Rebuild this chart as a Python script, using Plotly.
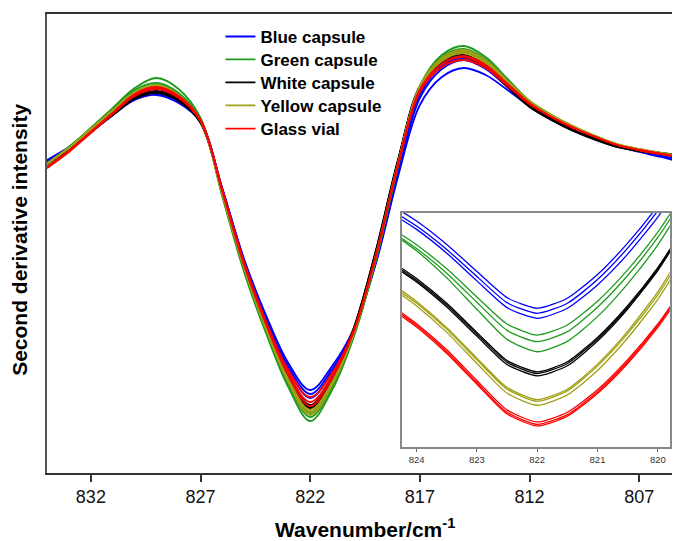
import plotly.graph_objects as go

# ---------------- main spectrum data ----------------
wavenumber = [834, 833, 832, 831, 830, 829, 828, 827, 826, 825, 824, 823, 822, 821, 820,
              819, 818, 817, 816, 815, 814, 813, 812, 811, 810, 809, 808, 807, 806, 805]

blue_1 = [1.40, 1.53, 1.69, 1.85, 2.00, 2.05, 1.97, 1.78, 1.11, 0.40, -0.16, -0.63, -0.90, -0.66, -0.28,
          0.37, 1.23, 1.95, 2.23, 2.32, 2.25, 2.10, 1.94, 1.83, 1.72, 1.63, 1.54, 1.48, 1.43, 1.37]
blue_2 = [1.39, 1.52, 1.68, 1.85, 2.01, 2.07, 1.99, 1.79, 1.11, 0.39, -0.18, -0.66, -0.94, -0.69, -0.29,
          0.38, 1.26, 2.02, 2.31, 2.40, 2.31, 2.13, 1.96, 1.83, 1.72, 1.63, 1.55, 1.49, 1.44, 1.40]
blue_3 = [1.38, 1.52, 1.68, 1.86, 2.02, 2.08, 2.00, 1.79, 1.10, 0.38, -0.20, -0.69, -0.98, -0.72, -0.30,
          0.39, 1.28, 2.05, 2.34, 2.42, 2.33, 2.15, 1.96, 1.83, 1.72, 1.62, 1.54, 1.49, 1.44, 1.41]

green_1 = [1.35, 1.52, 1.72, 1.92, 2.12, 2.22, 2.11, 1.82, 1.03, 0.27, -0.34, -0.87, -1.21, -0.90, -0.36,
           0.40, 1.33, 2.14, 2.45, 2.54, 2.43, 2.21, 1.99, 1.85, 1.73, 1.63, 1.55, 1.50, 1.46, 1.42]
green_2 = [1.36, 1.53, 1.72, 1.91, 2.10, 2.17, 2.07, 1.81, 1.04, 0.29, -0.32, -0.84, -1.17, -0.87, -0.35,
           0.41, 1.34, 2.13, 2.43, 2.51, 2.41, 2.20, 1.99, 1.85, 1.73, 1.64, 1.55, 1.50, 1.47, 1.43]
green_3 = [1.36, 1.53, 1.71, 1.90, 2.08, 2.15, 2.05, 1.80, 1.05, 0.30, -0.30, -0.82, -1.13, -0.85, -0.34,
           0.42, 1.35, 2.12, 2.41, 2.49, 2.39, 2.19, 1.98, 1.84, 1.73, 1.63, 1.55, 1.50, 1.46, 1.43]

white_1 = [1.36, 1.51, 1.68, 1.86, 2.03, 2.09, 2.01, 1.78, 1.08, 0.35, -0.25, -0.75, -1.05, -0.77, -0.27,
           0.50, 1.40, 2.14, 2.39, 2.45, 2.35, 2.14, 1.94, 1.81, 1.70, 1.61, 1.54, 1.50, 1.47, 1.45]
white_2 = [1.37, 1.51, 1.68, 1.85, 2.02, 2.08, 2.00, 1.78, 1.08, 0.34, -0.26, -0.76, -1.07, -0.78, -0.28,
           0.49, 1.39, 2.13, 2.38, 2.44, 2.34, 2.14, 1.94, 1.80, 1.69, 1.61, 1.53, 1.49, 1.46, 1.44]
white_3 = [1.36, 1.50, 1.68, 1.85, 2.01, 2.07, 1.99, 1.77, 1.07, 0.34, -0.26, -0.77, -1.08, -0.79, -0.28,
           0.49, 1.39, 2.12, 2.37, 2.43, 2.33, 2.13, 1.93, 1.80, 1.69, 1.60, 1.53, 1.49, 1.46, 1.44]

yellow_1 = [1.36, 1.52, 1.71, 1.90, 2.08, 2.15, 2.05, 1.80, 1.05, 0.31, -0.30, -0.82, -1.15, -0.85, -0.33,
            0.44, 1.36, 2.14, 2.42, 2.50, 2.40, 2.19, 1.99, 1.85, 1.74, 1.64, 1.56, 1.51, 1.47, 1.44]
yellow_2 = [1.37, 1.52, 1.71, 1.89, 2.07, 2.14, 2.04, 1.79, 1.06, 0.32, -0.29, -0.80, -1.12, -0.83, -0.32,
            0.45, 1.36, 2.13, 2.40, 2.48, 2.38, 2.18, 1.98, 1.85, 1.73, 1.64, 1.56, 1.51, 1.47, 1.44]
yellow_3 = [1.36, 1.52, 1.70, 1.89, 2.06, 2.13, 2.03, 1.79, 1.06, 0.32, -0.28, -0.79, -1.10, -0.82, -0.32,
            0.45, 1.36, 2.12, 2.39, 2.47, 2.37, 2.17, 1.98, 1.84, 1.73, 1.64, 1.55, 1.50, 1.46, 1.44]

glass_1 = [1.32, 1.49, 1.68, 1.87, 2.06, 2.13, 2.04, 1.80, 1.10, 0.37, -0.22, -0.70, -0.97, -0.73, -0.29,
           0.45, 1.35, 2.10, 2.36, 2.44, 2.35, 2.16, 1.97, 1.83, 1.72, 1.63, 1.55, 1.50, 1.46, 1.43]
glass_2 = [1.33, 1.49, 1.68, 1.87, 2.05, 2.12, 2.03, 1.80, 1.09, 0.36, -0.23, -0.73, -1.02, -0.76, -0.30,
           0.45, 1.35, 2.10, 2.36, 2.43, 2.34, 2.15, 1.96, 1.83, 1.72, 1.63, 1.55, 1.50, 1.46, 1.43]
glass_3 = [1.32, 1.48, 1.67, 1.86, 2.04, 2.11, 2.02, 1.79, 1.08, 0.34, -0.25, -0.75, -1.06, -0.78, -0.31,
           0.44, 1.34, 2.08, 2.33, 2.40, 2.32, 2.14, 1.96, 1.83, 1.72, 1.63, 1.55, 1.50, 1.46, 1.42]

# ---------------- inset (zoom on the 822 cm-1 minimum) ----------------
inset_wavenumber = [824.25, 824, 823.5, 823, 822.5, 822, 821.5, 821, 820.5, 820, 819.75]

inset_blue_1 = [70.5, 67.6, 60.6, 52.5, 44.7, 41.5, 44.5, 51.6, 61.0, 72.2, 79.0]
inset_blue_2 = [69.0, 66.1, 59.1, 51.0, 43.2, 40.0, 43.0, 50.1, 59.5, 70.7, 77.5]
inset_blue_3 = [68.0, 65.1, 58.0, 49.7, 41.7, 38.5, 41.5, 48.5, 57.7, 68.8, 75.5]
inset_green_1 = [63.5, 60.5, 53.3, 44.9, 36.8, 33.5, 36.5, 43.6, 53.0, 64.3, 71.0]
inset_green_2 = [62.5, 59.4, 52.0, 43.3, 34.9, 31.5, 34.5, 41.8, 51.3, 62.7, 69.5]
inset_green_3 = [62.0, 58.7, 50.6, 41.2, 32.2, 28.5, 31.6, 39.0, 48.8, 60.5, 67.5]
inset_white_1 = [53.5, 50.4, 43.0, 34.3, 25.9, 22.5, 25.5, 32.8, 42.3, 53.7, 60.5]
inset_white_2 = [53.0, 49.9, 42.5, 33.8, 25.4, 22.0, 25.0, 32.3, 41.8, 53.2, 60.2]
inset_white_3 = [52.5, 49.4, 41.9, 33.2, 24.7, 21.3, 24.3, 31.7, 41.3, 52.8, 59.8]
inset_yellow_1 = [46.8, 43.5, 35.7, 26.6, 17.8, 14.2, 17.3, 24.8, 34.6, 46.4, 53.5]
inset_yellow_2 = [46.2, 43.0, 35.2, 26.1, 17.3, 13.7, 16.8, 24.2, 33.9, 45.5, 52.5]
inset_yellow_3 = [45.5, 42.2, 34.3, 25.0, 16.1, 12.5, 15.6, 22.9, 32.6, 44.2, 51.2]
inset_glass_1 = [40.2, 36.9, 29.1, 19.9, 11.1, 7.5, 10.4, 17.1, 26.1, 36.8, 43.2]
inset_glass_2 = [39.7, 36.4, 28.5, 19.3, 10.4, 6.8, 9.7, 16.5, 25.5, 36.3, 42.8]
inset_glass_3 = [39.2, 35.9, 28.0, 18.8, 9.9, 6.3, 9.2, 16.0, 25.0, 35.8, 42.2]

main_ticks = [832, 827, 822, 817, 812, 807]
inset_ticks = [824, 823, 822, 821, 820]

series_names = ["Blue capsule", "Green capsule", "White capsule", "Yellow capsule", "Glass vial"]
series_colors = ["#0000ff", "#1e9a1e", "#000000", "#a0a014", "#ff0000"]
main_groups = [
    [blue_1, blue_2, blue_3],
    [green_1, green_2, green_3],
    [white_1, white_2, white_3],
    [yellow_1, yellow_2, yellow_3],
    [glass_1, glass_2, glass_3],
]
inset_groups = [
    [inset_blue_1, inset_blue_2, inset_blue_3],
    [inset_green_1, inset_green_2, inset_green_3],
    [inset_white_1, inset_white_2, inset_white_3],
    [inset_yellow_1, inset_yellow_2, inset_yellow_3],
    [inset_glass_1, inset_glass_2, inset_glass_3],
]

legend_ids = ["legend", "legend2", "legend3", "legend4", "legend5"]
legend_rows = [0.950, 0.900, 0.850, 0.800, 0.7495]

fig = go.Figure()

for name, color, reps, lid in zip(series_names, series_colors, main_groups, legend_ids):
    for i, ys in enumerate(reps):
        fig.add_trace(go.Scatter(
            x=wavenumber, y=ys, mode="lines", name=name, legendgroup=name,
            showlegend=(i == 0), legend=lid,
            line=dict(color=color, width=1.8, shape="spline", smoothing=1.0),
            xaxis="x", yaxis="y",
        ))

for name, color, reps in zip(series_names, series_colors, inset_groups):
    for ys in reps:
        fig.add_trace(go.Scatter(
            x=inset_wavenumber, y=ys, mode="lines", name=name, legendgroup=name,
            showlegend=False,
            line=dict(color=color, width=1.3, shape="spline", smoothing=0.6),
            xaxis="x2", yaxis="y2",
        ))

FONT = "Liberation Sans, Arial, sans-serif"

legend_layout = {}
for lid, row in zip(legend_ids, legend_rows):
    legend_layout[lid] = dict(
        x=0.274, y=row, xanchor="left", yanchor="middle",
        bgcolor="rgba(0,0,0,0)", borderwidth=0,
        font=dict(family=FONT, size=17, color="#000000", weight="bold"),
        tracegroupgap=0, itemwidth=30,
    )

# the page adds an 8 px body margin, so the figure is 8 px smaller on each side
fig.update_layout(
    width=672, height=533,
    margin=dict(l=39, r=0, t=6, b=68, autoexpand=False),
    paper_bgcolor="white", plot_bgcolor="white",
    font=dict(family=FONT, color="#000000"),
    showlegend=True,
    **legend_layout,
    xaxis=dict(
        domain=[0, 1], automargin=False,
        range=[834.0, 805.14],
        tickmode="array", tickvals=main_ticks, ticktext=[str(t) for t in main_ticks],
        ticks="outside", ticklen=7, tickwidth=1.5, tickcolor="#333333",
        tickfont=dict(family=FONT, size=18, color="#111111"),
        showline=True, linecolor="#333333", linewidth=1.5, mirror=True,
        showgrid=False, zeroline=False,
    ),
    yaxis=dict(
        domain=[0, 1], automargin=False,
        range=[-1.73, 2.86],
        showticklabels=False, ticks="",
        showline=True, linecolor="#555555", linewidth=1.5, mirror=False,
        showgrid=False, zeroline=False,
    ),
    xaxis2=dict(
        domain=[0.561, 0.984], anchor="y2", automargin=False,
        range=[824.24, 819.8],
        tickmode="array", tickvals=inset_ticks, ticktext=[str(t) for t in inset_ticks],
        ticks="outside", ticklen=3, tickwidth=1, tickcolor="#666666",
        tickfont=dict(family=FONT, size=9.5, color="#333333"),
        showline=True, linecolor="#888888", linewidth=1.5, mirror=True,
        showgrid=False, zeroline=False,
    ),
    yaxis2=dict(
        domain=[0.0566, 0.5664], anchor="x2", automargin=False,
        range=[0, 70],
        showticklabels=False, ticks="",
        showline=True, linecolor="#888888", linewidth=1.5, mirror=True,
        showgrid=False, zeroline=False,
    ),
    annotations=[
        dict(text="<b>Wavenumber/cm<sup>-1</sup></b>", xref="paper", yref="paper",
             x=0.502, y=-0.119, xanchor="center", yanchor="middle", showarrow=False,
             font=dict(family=FONT, size=21, color="#000000")),
        dict(text="<b>Second derivative intensity</b>", xref="paper", yref="paper",
             x=-0.0445, y=0.5076, xanchor="center", yanchor="middle", showarrow=False,
             textangle=-90, font=dict(family=FONT, size=21, color="#000000")),
    ],
)

fig.write_html("out.html")
